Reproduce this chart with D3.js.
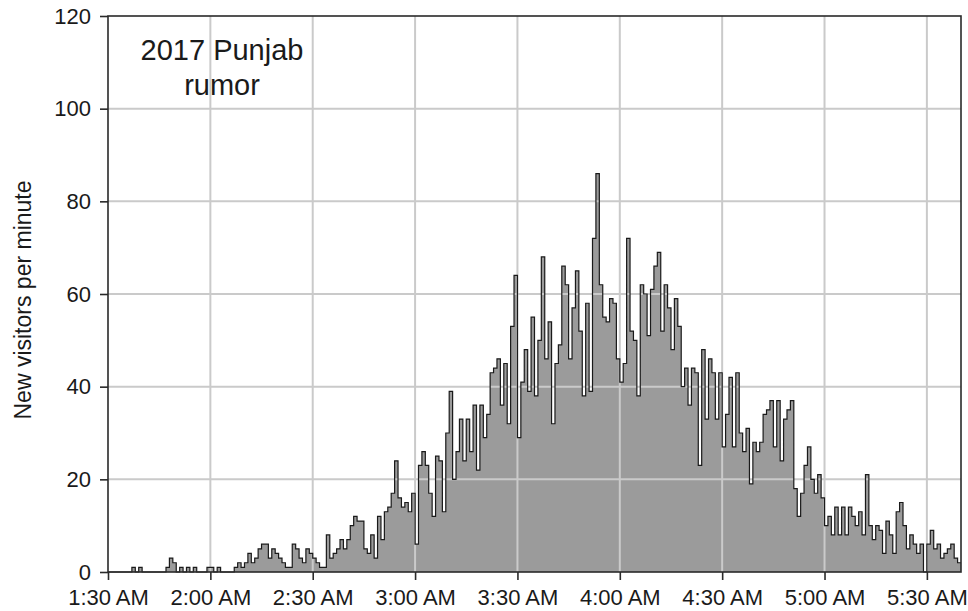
<!DOCTYPE html>
<html>
<head>
<meta charset="utf-8">
<script src="https://cdn.jsdelivr.net/npm/d3@7"></script>
<style>
  html, body { margin: 0; padding: 0; background: #ffffff; }
  svg { display: block; font-family: "Liberation Sans", Arial, sans-serif; }
</style>
</head>
<body>
<svg id="chart" width="968" height="611"></svg>
<script>
// New visitors per minute, one value per minute starting at 1:30 AM
const startTime = "01:30";
const visitorsPerMinute = [
  0,0,0,0,0,0,0,1,0,1,
  0,0,0,0,0,0,0,1,3,2,
  0,1,0,1,0,1,0,0,0,1,
  1,0,1,0,0,0,0,1,2,1,
  2,4,2,3,5,6,6,3,5,4,
  3,2,1,1,6,5,3,2,5,4,
  3,2,1,1,8,3,4,5,7,5,
  7,10,12,11,11,5,4,8,3,12,
  7,13,14,17,24,16,14,15,13,17,
  6,23,26,23,17,12,25,24,13,30,
  39,20,26,33,24,33,26,36,22,36,
  29,34,43,44,46,36,45,32,53,64,
  29,41,48,39,55,38,50,68,46,54,
  32,45,49,66,62,46,57,65,52,38,
  58,39,72,86,62,55,54,59,58,46,
  41,45,72,52,50,38,62,60,51,61,
  66,69,52,62,57,48,59,53,40,44,
  36,44,43,23,48,33,46,43,33,43,
  27,34,42,27,43,30,26,31,19,28,
  26,28,34,35,37,27,37,24,33,35,
  37,18,12,17,23,27,20,17,21,16,
  10,12,8,14,8,14,8,14,12,10,
  13,8,21,10,7,10,9,4,11,8,
  4,13,15,10,5,8,6,4,6,0,
  6,9,5,6,3,4,5,6,3,2
];
const xTickLabels = ["1:30 AM","2:00 AM","2:30 AM","3:00 AM","3:30 AM","4:00 AM","4:30 AM","5:00 AM","5:30 AM"];
const yTicks = [0, 20, 40, 60, 80, 100, 120];
const titleLines = ["2017 Punjab", "rumor"];
const yTitle = "New visitors per minute";

const svg = d3.select("#chart");
const plotLeft = 108, plotRight = 961, plotTop = 16, plotBottom = 572;

const parse = d3.timeParse("%H:%M");
const t0 = parse(startTime);
const minute = i => d3.timeMinute.offset(t0, i);

const x = d3.scaleTime()
  .domain([t0, minute(visitorsPerMinute.length)])
  .range([plotLeft, plotRight]);
const y = d3.scaleLinear().domain([0, 120]).range([plotBottom, plotTop]);

// step points: each minute's value holds until the next minute
const pts = visitorsPerMinute.map((v, i) => ({ t: minute(i), v }));
pts.push({ t: minute(visitorsPerMinute.length), v: visitorsPerMinute[visitorsPerMinute.length - 1] });

const xTickTimes = xTickLabels.map((_, i) => d3.timeMinute.offset(t0, i * 30));

// filled area under the step curve
svg.append("path")
  .datum(pts)
  .attr("fill", "#9b9b9b")
  .attr("d", d3.area().curve(d3.curveStepAfter).x(d => x(d.t)).y0(y(0)).y1(d => y(d.v)));

// grid
const grid = svg.append("g").attr("stroke", "#cacaca").attr("stroke-width", 2);
grid.selectAll("line.v").data(xTickTimes.slice(1)).join("line")
  .attr("x1", d => x(d)).attr("x2", d => x(d)).attr("y1", plotTop).attr("y2", plotBottom);
grid.selectAll("line.h").data(yTicks.slice(1, -1)).join("line")
  .attr("x1", plotLeft).attr("x2", plotRight).attr("y1", d => y(d)).attr("y2", d => y(d));

// step outline
svg.append("path")
  .datum(pts)
  .attr("fill", "none")
  .attr("stroke", "#1a1a1a")
  .attr("stroke-width", 1.2)
  .attr("d", d3.line().curve(d3.curveStepAfter).x(d => x(d.t)).y(d => y(d.v)));

// plot frame
svg.append("rect")
  .attr("x", plotLeft).attr("y", plotTop).attr("width", plotRight - plotLeft).attr("height", plotBottom - plotTop)
  .attr("fill", "none").attr("stroke", "#2a2a2a").attr("stroke-width", 1.6);

// axes
const xAxis = d3.axisBottom(x)
  .tickValues(xTickTimes)
  .tickFormat((d, i) => xTickLabels[i])
  .tickSize(8).tickPadding(9);
const gx = svg.append("g").attr("transform", `translate(0,${plotBottom})`).call(xAxis);

const yAxis = d3.axisLeft(y).tickValues(yTicks).tickSize(8).tickPadding(9);
const gy = svg.append("g").attr("transform", `translate(${plotLeft},0)`).call(yAxis);

[gx, gy].forEach(g => {
  g.select(".domain").remove();
  g.selectAll(".tick line").attr("stroke", "#2a2a2a").attr("stroke-width", 1.6);
  g.selectAll(".tick text")
    .attr("fill", "#1a1a1a")
    .style("font-size", "22px")
    .style("font-family", "'Liberation Sans', Arial, sans-serif");
});

// y-axis title
svg.append("text")
  .attr("transform", `translate(31,300) rotate(-90)`)
  .attr("text-anchor", "middle")
  .attr("fill", "#1a1a1a")
  .style("font-size", "23px")
  .text(yTitle);

// chart label
const label = svg.append("text")
  .attr("text-anchor", "middle")
  .attr("fill", "#1a1a1a")
  .style("font-size", "29px");
titleLines.forEach((s, i) => {
  label.append("tspan").attr("x", 222).attr("y", 60 + i * 35).text(s);
});
</script>
</body>
</html>
